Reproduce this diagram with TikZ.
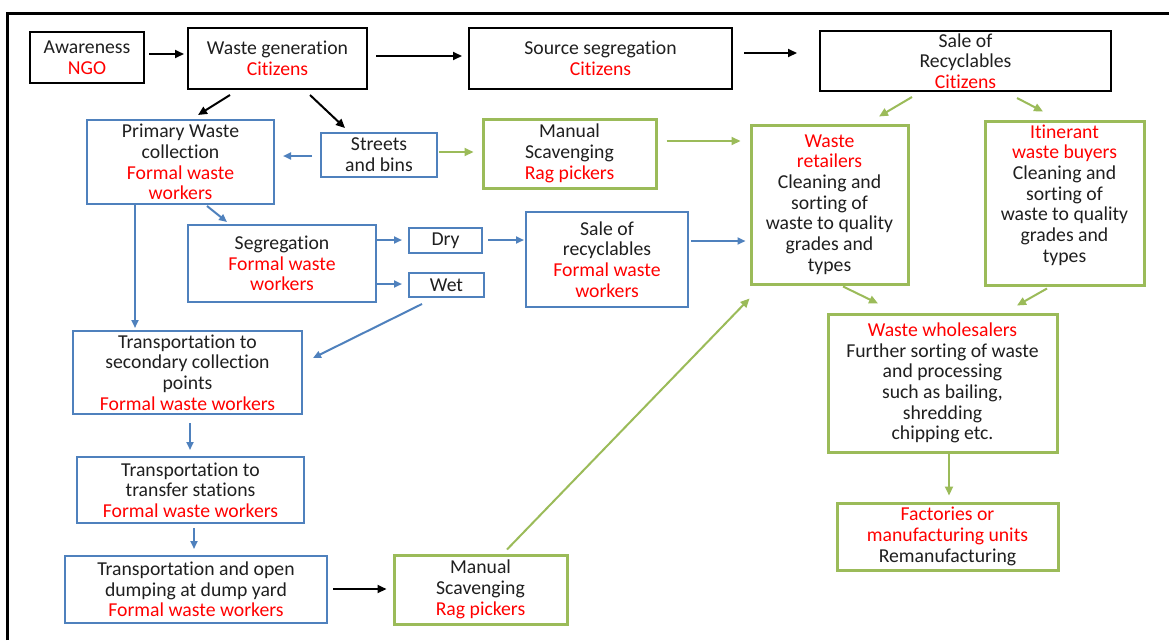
\documentclass[tikz,border=0pt]{standalone}
\usepackage{fontspec}
\setmainfont{Carlito}[Ligatures=NoCommon]
\usetikzlibrary{arrows.meta,calc}
\definecolor{wred}{HTML}{FF0000}
\definecolor{wblue}{HTML}{4F81BD}
\definecolor{wgreen}{HTML}{9BBB59}
\newcommand\actor[1]{\textcolor{wred}{#1}}

\begin{document}
\begin{tikzpicture}[x=1pt,y=-1pt,
  every node/.style={font=\fontsize{19.7}{20.7}\selectfont, align=center, inner sep=0pt, text=black!88},
  blackbox/.style={draw=black, line width=2pt, rectangle},
  bluebox/.style={draw=wblue, line width=2pt, rectangle},
  greenbox/.style={draw=wgreen, line width=3pt, rectangle},
  barrow/.style={draw=black, line width=2pt, -{Triangle[length=9pt,width=8pt]}},
  blarrow/.style={draw=wblue, line width=2pt, -{Triangle[length=8pt,width=7pt]}},
  garrow/.style={draw=wgreen, line width=2pt, -{Triangle[length=9pt,width=8pt]}}]

\useasboundingbox (0,0) rectangle (1169,640);
\fill[white] (0,0) rectangle (1169,640);

% outer frame
\draw[line width=3pt] (7,640) -- (7,13) -- (1169,13);

% citizen stages
\node[blackbox, minimum width=114pt, minimum height=51pt] (aw) at (87,57.5) {Awareness\\\actor{NGO}};
\node[blackbox, minimum width=179pt, minimum height=61pt] (wg) at (277.5,58.5) {Waste generation\\\actor{Citizens}};
\node[blackbox, minimum width=263pt, minimum height=61pt] (ss) at (600.5,58.5) {Source segregation\\\actor{Citizens}};
\node[blackbox, minimum width=291pt, minimum height=60pt] (sr) at (965.5,61) {Sale of\\Recyclables\\\actor{Citizens}};

% formal collection chain
\node[bluebox, minimum width=187pt, minimum height=84pt] (pwc) at (180.5,162) {Primary Waste\\collection\\\actor{Formal waste}\\\actor{workers}};
\node[bluebox, minimum width=116pt, minimum height=44pt] (sb) at (379,155) {Streets\\and bins};
\node[bluebox, minimum width=188pt, minimum height=77pt] (seg) at (282,263.5) {Segregation\\\actor{Formal waste}\\\actor{workers}};
\node[bluebox, minimum width=73pt, minimum height=25pt] (dry) at (445.5,240.5) {Dry};
\node[bluebox, minimum width=75pt, minimum height=24pt] (wet) at (446.5,285) {Wet};
\node[bluebox, minimum width=162pt, minimum height=95pt] (sor) at (607,259.5) {Sale of\\recyclables\\\actor{Formal waste}\\\actor{workers}};
\node[bluebox, minimum width=229pt, minimum height=83pt] (tsc) at (187.5,372.5) {Transportation to\\secondary collection\\points\\\actor{Formal waste workers}};
\node[bluebox, minimum width=227pt, minimum height=66pt] (tts) at (190.5,490) {Transportation to\\transfer stations\\\actor{Formal waste workers}};
\node[bluebox, minimum width=262pt, minimum height=67pt] (tod) at (196,589.5) {Transportation and open\\dumping at dump yard\\\actor{Formal waste workers}};

% informal recycling chain
\node[greenbox, minimum width=173pt, minimum height=69pt] (ms1) at (569.5,153.5) {Manual\\Scavenging\\\actor{Rag pickers}};
\node[greenbox, minimum width=173pt, minimum height=69pt] (ms2) at (480.5,589.5) {Manual\\Scavenging\\\actor{Rag pickers}};
\node[greenbox, minimum width=157pt, minimum height=159pt] (wr) at (829.5,204.5) {\actor{Waste}\\\actor{retailers}\\Cleaning and\\sorting of\\waste to quality\\grades and\\types};
\node[greenbox, minimum width=159pt, minimum height=164pt] (itb) at (1064.5,203) {};
\node (itbt) at (1064.5,195) {\actor{Itinerant}\\\actor{waste buyers}\\Cleaning and\\sorting of\\waste to quality\\grades and\\types};
\node[greenbox, minimum width=229pt, minimum height=138pt] (ww) at (942.5,383) {\actor{Waste wholesalers}\\Further sorting of waste\\and processing\\such as bailing,\\shredding\\chipping etc.};
\node[greenbox, minimum width=221pt, minimum height=67pt] (fac) at (947.5,536.5) {\actor{Factories or}\\\actor{manufacturing units}\\Remanufacturing};

% black connectors
\draw[barrow] ($(aw.east)+(4,-3.5)$) -- ($(wg.west)+(-3,-4.5)$);
\draw[barrow] ($(wg.east)+(8,-2.5)$) -- ($(ss.west)+(-6,-2.5)$);
\draw[barrow] ($(ss.east)+(11,-5.5)$) -- ($(sr.west)+(-22,-8)$);
\draw[barrow] ($(wg.south)+(-47.5,5)$) -- ($(pwc.north)+(17.5,-4)$);
\draw[barrow] ($(wg.south)+(32.5,5)$) -- ($(sb.north)+(-34,-4)$);
\draw[barrow] ($(tod.east)+(5,-0.5)$) -- ($(ms2.west)+(-6,-0.5)$);

% blue connectors
\draw[blarrow] ($(sb.west)+(-8,1)$) -- ($(pwc.east)+(8,-6)$);
\draw[blarrow] ($(pwc.south)+(-45.5,0)$) -- ($(tsc.north)+(-52.5,-2)$);
\draw[blarrow] ($(pwc.south)+(26.5,1)$) -- ($(seg.north)+(-55,-2)$);
\draw[blarrow] ($(seg.east)+(0,-23.5)$) -- ($(dry.west)+(-6,-0.5)$);
\draw[blarrow] ($(seg.east)+(0,20.5)$) -- ($(wet.west)+(-6,-1)$);
\draw[blarrow] ($(dry.east)+(5,-0.5)$) -- ($(sor.west)+(-1,-19.5)$);
\draw[blarrow] ($(wet.south)+(-24.5,6)$) -- ($(tsc.east)+(10,-14.5)$);
\draw[blarrow] ($(sor.east)+(2,-18.5)$) -- ($(wr.west)+(-4,36.5)$);
\draw[blarrow] ($(tsc.south)+(2.5,8)$) -- ($(tts.north)+(-0.5,-6)$);
\draw[blarrow] ($(tts.south)+(3.5,4)$) -- ($(tod.north)+(-2,-6)$);

% green connectors
\draw[garrow] ($(sb.east)+(1,-3)$) -- ($(ms1.west)+(-8,-1.5)$);
\draw[garrow] ($(ms1.east)+(9,-12.5)$) -- ($(wr.west)+(-9,-63.5)$);
\draw[garrow] ($(sr.south)+(-53.5,5)$) -- ($(wr.north)+(49.5,-7)$);
\draw[garrow] ($(sr.south)+(51.5,6)$) -- ($(itb.north)+(-21.5,-8)$);
\draw[garrow] ($(wr.south)+(13.5,1)$) -- ($(ww.north)+(-64.5,-9)$);
\draw[garrow] ($(itb.south)+(-17.5,2)$) -- ($(ww.north)+(74.5,-7)$);
\draw[garrow] ($(ww.south)+(6.5,0)$) -- ($(fac.north)+(1.5,-6)$);
\draw[garrow] ($(ms2.north)+(26.5,-4)$) -- ($(wr.south west)+(0,13)$);

\end{tikzpicture}
\end{document}
